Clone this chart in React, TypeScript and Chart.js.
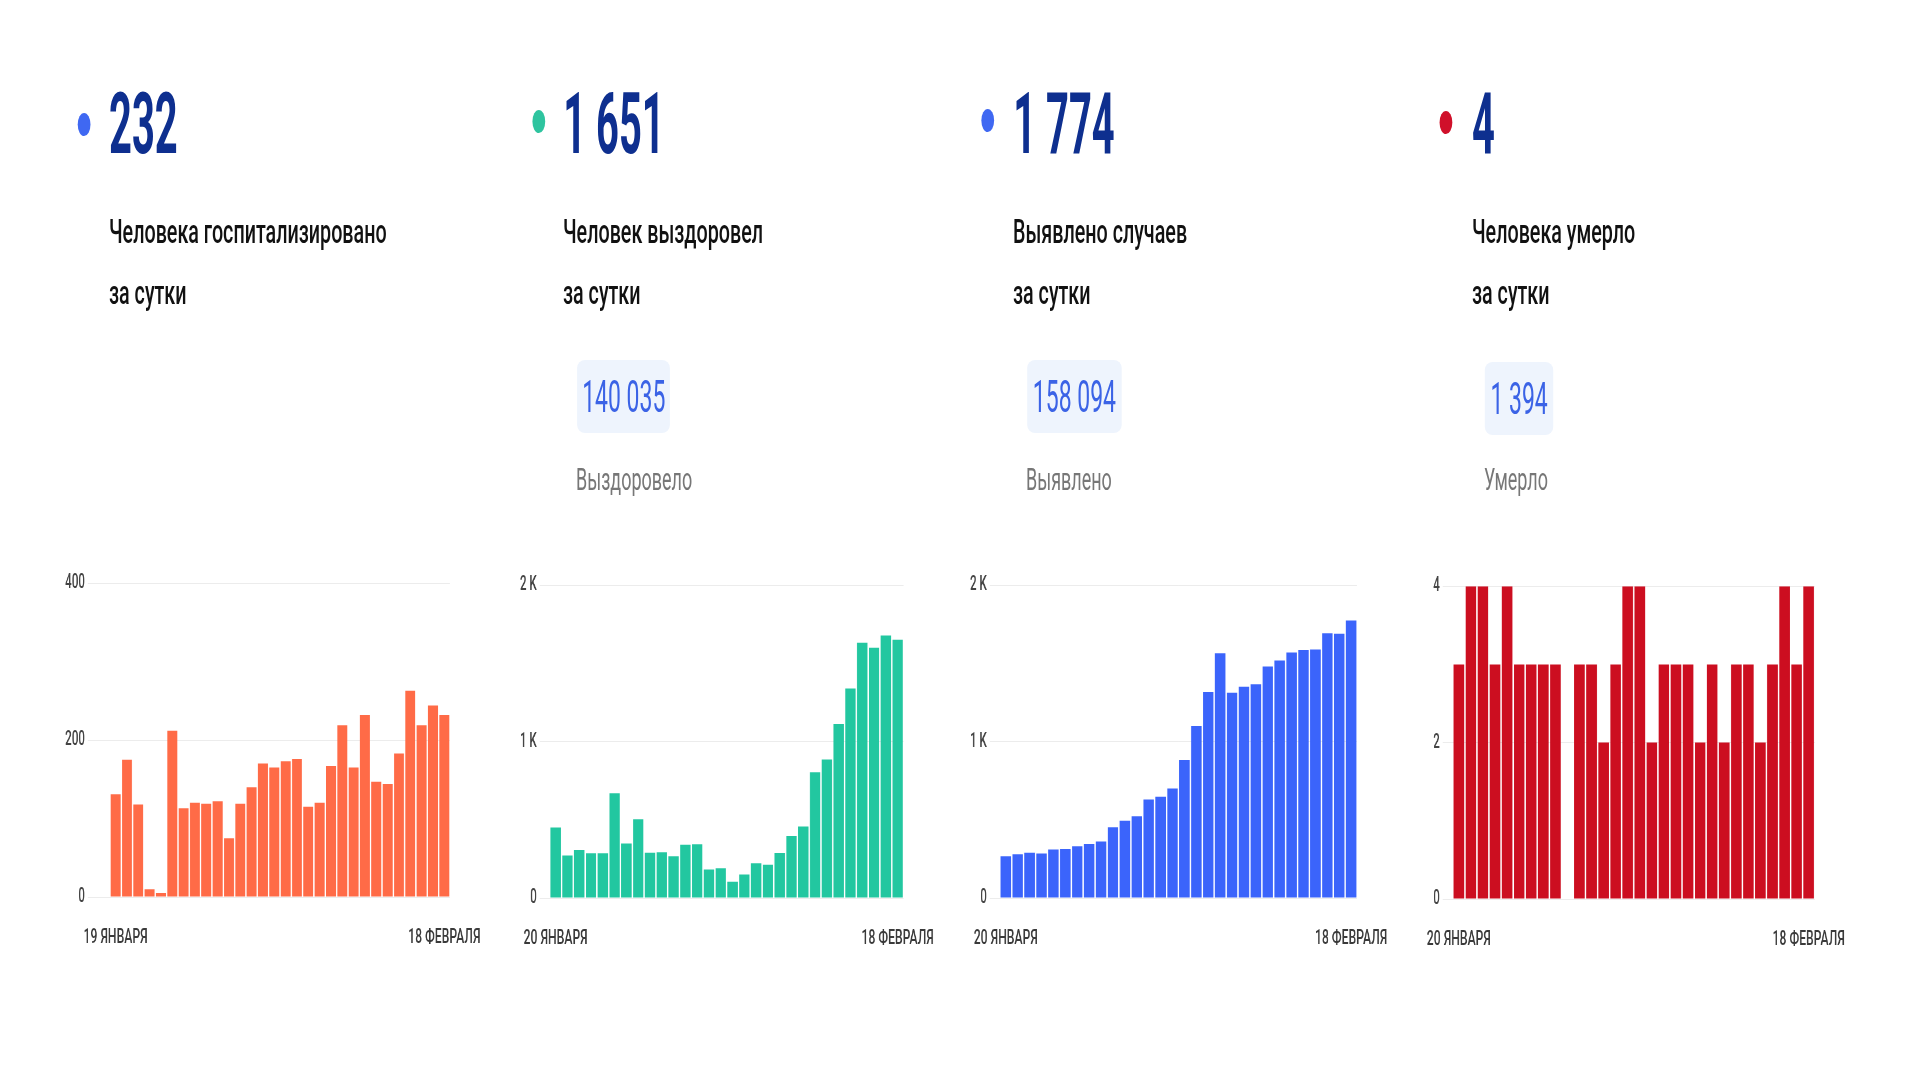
import React, { useEffect, useRef } from "react";
import { Chart, registerables } from "chart.js";

Chart.register(...registerables);

// ---------------- DATA ----------------
const DATES = [
  "20 января", "21 января", "22 января", "23 января", "24 января", "25 января",
  "26 января", "27 января", "28 января", "29 января", "30 января", "31 января",
  "1 февраля", "2 февраля", "3 февраля", "4 февраля", "5 февраля", "6 февраля",
  "7 февраля", "8 февраля", "9 февраля", "10 февраля", "11 февраля", "12 февраля",
  "13 февраля", "14 февраля", "15 февраля", "16 февраля", "17 февраля", "18 февраля",
];

const HOSPITALIZED = [131, 175, 118, 10, 5, 212, 113, 120, 119, 122, 75, 119, 140, 170, 165, 173, 176, 115, 120, 167, 219, 165, 232, 147, 144, 183, 263, 219, 244, 232];
const RECOVERED = [451, 271, 307, 286, 286, 669, 349, 504, 290, 292, 267, 341, 343, 182, 190, 104, 150, 222, 212, 288, 396, 457, 804, 885, 1113, 1340, 1632, 1600, 1678, 1651];
const DETECTED = [267, 280, 290, 284, 310, 314, 331, 346, 361, 452, 494, 522, 630, 647, 700, 882, 1099, 1317, 1565, 1313, 1351, 1366, 1480, 1519, 1569, 1586, 1589, 1692, 1690, 1774];
const DEATHS = [3, 4, 4, 3, 4, 3, 3, 3, 3, 0, 3, 3, 2, 3, 4, 4, 2, 3, 3, 3, 2, 3, 2, 3, 3, 2, 3, 4, 3, 4];

const X_TICKS_1 = ["19 ЯНВАРЯ", "18 ФЕВРАЛЯ"];
const X_TICKS_2 = ["20 ЯНВАРЯ", "18 ФЕВРАЛЯ"];
const X_TICKS_3 = ["20 ЯНВАРЯ", "18 ФЕВРАЛЯ"];
const X_TICKS_4 = ["20 ЯНВАРЯ", "18 ФЕВРАЛЯ"];

const Y_MAX = [400, 2000, 2000, 4];
const Y_STEP = [200, 1000, 1000, 2];

const HEADLINES = ["232", "1 651", "1 774", "4"];
const TITLES_LINE1 = ["Человека госпитализировано", "Человек выздоровел", "Выявлено случаев", "Человека умерло"];
const TITLES_LINE2 = ["за сутки", "за сутки", "за сутки", "за сутки"];
const TOTALS = ["", "140 035", "158 094", "1 394"];
const TOTAL_LABELS = ["", "Выздоровело", "Выявлено", "Умерло"];

// ---------------- LAYOUT ----------------
const S = 0.58; // horizontal squeeze of the whole picture
const u = (x: number) => x / S;

const BAR_COLORS = ["#ff6b47", "#22c7a0", "#3b64fb", "#cc0e20"];
const DOT_COLORS = ["#3f68f2", "#2ec49f", "#3f68f2", "#d0102a"];

type Box = { tickStart: number; left: number; right: number; top: number; bottom: number };

const fmtK = (v: number) => (v === 0 ? "0" : `${v / 1000} K`);

function BarChart(props: {
  values: number[];
  color: string;
  max: number;
  step: number;
  fmt: (v: number) => string;
  xTicks: string[];
  box: Box;
}) {
  const ref = useRef<HTMLCanvasElement | null>(null);
  const { box } = props;
  const padL = 45;
  const padR = 50;
  const padT = 15;
  const xH = 70;
  const canvasLeft = box.tickStart - padL;
  const canvasTop = box.top - padT;
  const widthU = u(box.right + padR - canvasLeft);
  const height = box.bottom - box.top + padT + xH;

  useEffect(() => {
    if (!ref.current) return;
    const n = props.values.length;
    const chart = new Chart(ref.current, {
      type: "bar",
      data: {
        labels: DATES,
        datasets: [
          {
            data: props.values,
            backgroundColor: props.color,
            borderWidth: 0,
            categoryPercentage: 1,
            barPercentage: 0.88,
          },
        ],
      },
      options: {
        animation: false,
        responsive: false,
        devicePixelRatio: 1,
        layout: { padding: { top: padT, right: u(padR), left: 0, bottom: 0 } },
        plugins: { legend: { display: false }, tooltip: { enabled: false } },
        scales: {
          x: {
            grid: { display: false },
            border: { display: false },
            afterFit: (scale: any) => {
              scale.height = xH;
            },
            ticks: {
              autoSkip: false,
              maxRotation: 0,
              minRotation: 0,
              padding: 20,
              color: "#3a3a3a",
              font: { family: "Roboto", size: 21, weight: 500 },
              callback: (_v: any, i: number) =>
                i === 0 ? props.xTicks[0] : i === n - 1 ? props.xTicks[1] : "",
            },
          },
          y: {
            min: 0,
            max: props.max,
            border: { display: false },
            afterFit: (scale: any) => {
              scale.width = u(box.left - canvasLeft);
            },
            grid: {
              color: "#ececec",
              lineWidth: 1,
              drawTicks: true,
              tickLength: u(box.left - box.tickStart),
              tickColor: "#ececec",
            },
            ticks: {
              stepSize: props.step,
              padding: u(3),
              color: "#444",
              font: { family: "Roboto", size: 20, weight: 500 },
              callback: (v: any) => props.fmt(Number(v)),
            },
          },
        },
      },
    });
    return () => chart.destroy();
  }, []);

  return (
    <canvas
      ref={ref}
      width={Math.round(widthU)}
      height={Math.round(height)}
      style={{
        position: "absolute",
        left: u(canvasLeft),
        top: canvasTop,
        width: Math.round(widthU),
        height: Math.round(height),
      }}
    />
  );
}

const top = (baseline: number, fs: number) => baseline - 0.842 * fs;

function Panel(props: {
  i: number;
  dotX: number;
  dotY: number;
  textX: number;
  boxX: number;
  boxW: number;
  boxY: number;
}) {
  const { i } = props;
  const numFs = 86;
  const titleFs = 34;
  const totFs = 45;
  const lblFs = 31;
  return (
    <>
      <div
        style={{
          position: "absolute",
          left: u(props.dotX) - 11,
          top: props.dotY - 11.5,
          width: 22,
          height: 23,
          borderRadius: "50%",
          background: DOT_COLORS[i],
        }}
      />
      <div
        style={{
          position: "absolute",
          left: u(props.textX),
          top: top(153, numFs),
          fontSize: numFs,
          lineHeight: 1,
          fontWeight: 700,
          color: "#0e2f8f",
          whiteSpace: "nowrap",
          transform: "scaleX(0.8)",
          transformOrigin: "0 0",
        }}
      >
        {HEADLINES[i]}
      </div>
      <div
        style={{
          position: "absolute",
          left: u(props.textX),
          top: top(243, titleFs),
          fontSize: titleFs,
          lineHeight: 1,
          fontWeight: 500,
          color: "#111",
          whiteSpace: "nowrap",
        }}
      >
        {TITLES_LINE1[i]}
      </div>
      <div
        style={{
          position: "absolute",
          left: u(props.textX),
          top: top(304, titleFs),
          fontSize: titleFs,
          lineHeight: 1,
          fontWeight: 500,
          color: "#111",
          whiteSpace: "nowrap",
        }}
      >
        {TITLES_LINE2[i]}
      </div>
      {TOTALS[i] && (
        <>
          <div
            style={{
              position: "absolute",
              left: u(props.boxX),
              top: props.boxY,
              width: u(props.boxW),
              height: 73,
              borderRadius: `${u(8)}px / 8px`,
              background: "#eef4fd",
              display: "flex",
              alignItems: "center",
              justifyContent: "center",
            }}
          >
            <span
              style={{
                display: "inline-block",
                fontSize: totFs,
                lineHeight: 1,
                color: "#3b63e6",
                whiteSpace: "nowrap",
                transform: "scaleX(0.88)",
                transformOrigin: "50% 50%",
              }}
            >
              {TOTALS[i]}
            </span>
          </div>
          <div
            style={{
              position: "absolute",
              left: u(props.boxX - 1),
              top: top(490, lblFs),
              fontSize: lblFs,
              lineHeight: 1,
              color: "#777",
              whiteSpace: "nowrap",
            }}
          >
            {TOTAL_LABELS[i]}
          </div>
        </>
      )}
    </>
  );
}

export default function App() {
  return (
    <div
      style={{
        position: "fixed",
        left: 0,
        top: 0,
        width: 1920,
        height: 1080,
        overflow: "hidden",
        background: "#fff",
      }}
    >
      <div
        style={{
          position: "absolute",
          left: 0,
          top: 0,
          width: u(1920),
          height: 1080,
          transform: `scaleX(${S})`,
          transformOrigin: "0 0",
          fontFamily: "Roboto, sans-serif",
        }}
      >
        <Panel i={0} dotX={84} dotY={124} textX={109} boxX={0} boxW={0} boxY={0} />
        <Panel i={1} dotX={539} dotY={121.5} textX={563} boxX={577} boxW={93} boxY={360} />
        <Panel i={2} dotX={988} dotY={120.5} textX={1013} boxX={1027} boxW={95} boxY={360} />
        <Panel i={3} dotX={1446} dotY={122} textX={1472} boxX={1485} boxW={68} boxY={362} />

        <BarChart values={HOSPITALIZED} color={BAR_COLORS[0]} max={Y_MAX[0]} step={Y_STEP[0]} fmt={(v) => String(v)} xTicks={X_TICKS_1}
          box={{ tickStart: 88, left: 110, right: 450, top: 581, bottom: 897 }} />
        <BarChart values={RECOVERED} color={BAR_COLORS[1]} max={Y_MAX[1]} step={Y_STEP[1]} fmt={fmtK} xTicks={X_TICKS_2}
          box={{ tickStart: 540, left: 550, right: 904, top: 583, bottom: 898 }} />
        <BarChart values={DETECTED} color={BAR_COLORS[2]} max={Y_MAX[2]} step={Y_STEP[2]} fmt={fmtK} xTicks={X_TICKS_3}
          box={{ tickStart: 990, left: 1000, right: 1357, top: 583, bottom: 898 }} />
        <BarChart values={DEATHS} color={BAR_COLORS[3]} max={Y_MAX[3]} step={Y_STEP[3]} fmt={(v) => String(v)} xTicks={X_TICKS_4}
          box={{ tickStart: 1443, left: 1453, right: 1815, top: 584, bottom: 899 }} />
      </div>
    </div>
  );
}
